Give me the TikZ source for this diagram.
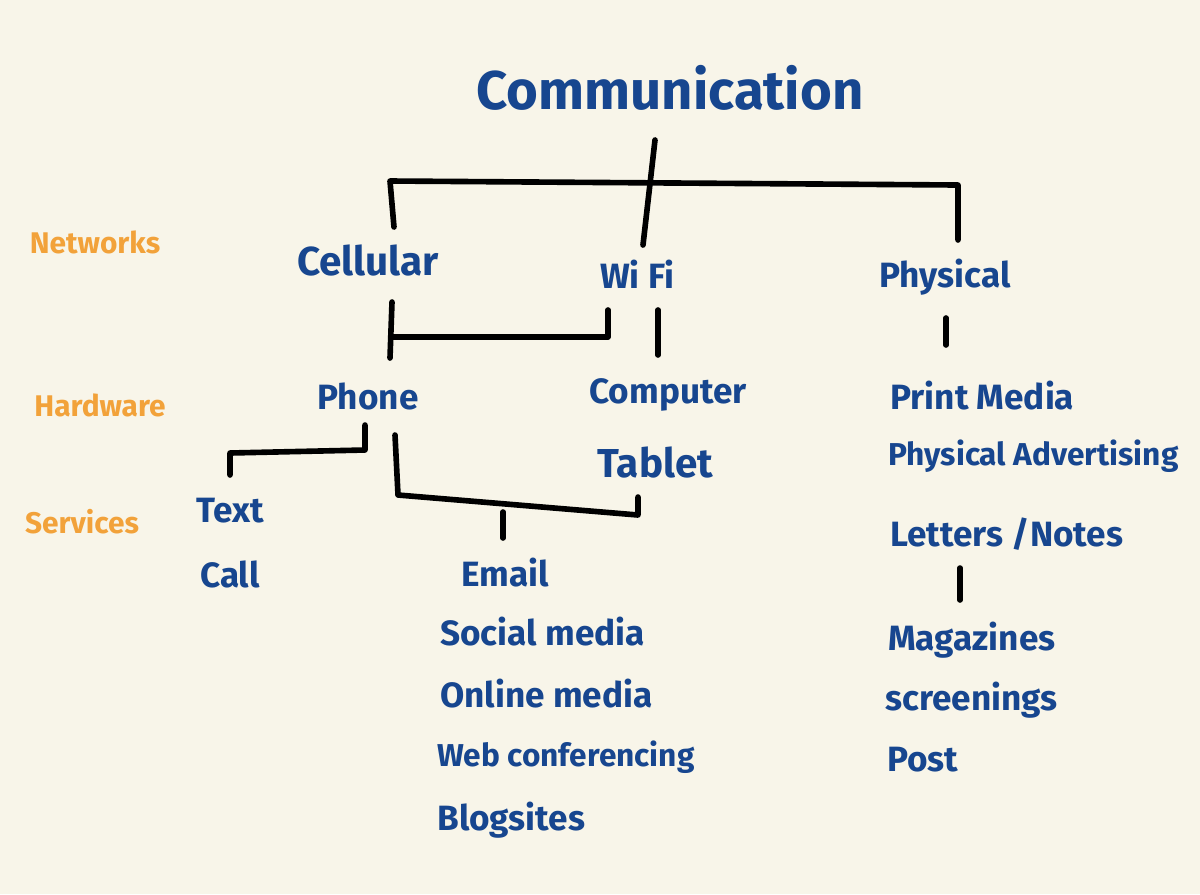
\documentclass[tikz,border=0pt]{standalone}
\usepackage{fontspec}
\setmainfont{Fira Sans}
\definecolor{paper}{HTML}{F8F5E9}
\definecolor{ink}{HTML}{17468F}
\definecolor{tag}{HTML}{F2A23A}
\begin{document}
\begin{tikzpicture}[x=0.02cm,y=-0.02cm,
		item/.style={text=ink,font=\fontsize{20}{24}\selectfont\bfseries,inner sep=0pt},
		level/.style={text=tag,font=\fontsize{17}{20}\selectfont\bfseries,inner sep=0pt},
		link/.style={line width=3.2pt,line cap=round,line join=round}]
	\fill[paper] (0,0) rectangle (1200,894);
	\useasboundingbox (0,0) rectangle (1200,894);
	% title and levels
	\node[item,font=\fontsize{31}{36}\selectfont\bfseries] (comm) at (670,88) {Communication};
	\node[level] (networks) at (95,242) {Networks};
	\node[level] (hardware) at (100,405) {Hardware};
	\node[level] (services) at (82,522) {Services};
	% networks
	\node[item,font=\fontsize{23}{26}\selectfont\bfseries] (cell) at (368,260) {Cellular};
	\node[item] (wifi) at (637,274) {Wi Fi};
	\node[item] (phys) at (945,277) {Physical};
	% hardware
	\node[item] (phone) at (368,396) {Phone};
	\node[item] (comp) at (668,395) {Computer};
	\node[item,font=\fontsize{23}{26}\selectfont\bfseries] (tablet) at (655,462) {Tablet};
	\node[item,anchor=west] (print) at (890,396) {Print Media};
	\node[item,anchor=west,font=\fontsize{18}{22}\selectfont\bfseries] (advert) at (888,456) {Physical Advertising};
	\node[item,anchor=west] (letters) at (890,534) {Letters /Notes};
	% services
	\node[item] (text) at (230,511) {Text};
	\node[item] (call) at (230,574) {Call};
	\node[item] (email) at (505,573) {Email};
	\node[item,anchor=west] (social) at (440,632) {Social media};
	\node[item,anchor=west] (online) at (440,694) {Online media};
	\node[item,anchor=west,font=\fontsize{18}{22}\selectfont\bfseries] (web) at (437,757) {Web conferencing};
	\node[item,anchor=west] (blog) at (437,820) {Blogsites};
	\node[item,anchor=west] (mag) at (888,640) {Magazines};
	\node[item,anchor=west] (screen) at (885,700) {screenings};
	\node[item,anchor=west] (post) at (887,760) {Post};
	% connectors
	\draw[link] (655,140) -- (643,245);
	\draw[link] (394,227) -- (390,181) -- (958,185) -- (958,240);
	\draw[link] (392,302) -- (390,358);
	\draw[link] (392,337) -- (608,337) -- (608,310);
	\draw[link] (658,310) -- (658,355);
	\draw[link] (946,318) -- (946,345);
	\draw[link] (365,425) -- (365,450) -- (230,453) -- (230,475);
	\draw[link] (395,435) -- (398,495) -- (638,515) -- (638,497);
	\draw[link] (503,512) -- (503,538);
	\draw[link] (960,568) -- (960,600);
\end{tikzpicture}
\end{document}
